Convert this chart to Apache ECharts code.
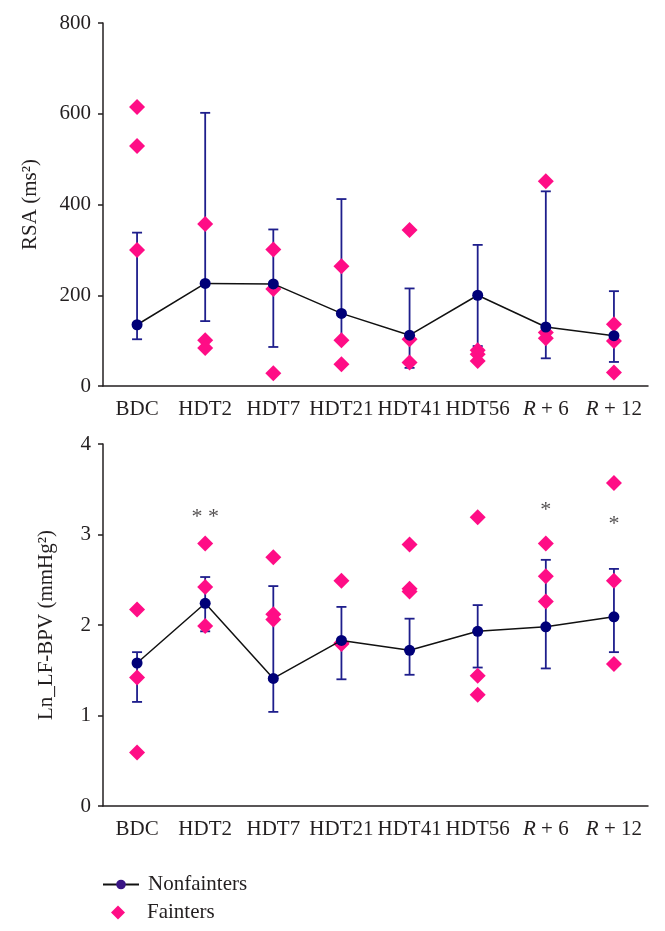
<!DOCTYPE html>
<html>
<head>
<meta charset="utf-8">
<script src="https://cdn.jsdelivr.net/npm/echarts@6/dist/echarts.min.js"></script>
<style>
  html, body { margin: 0; padding: 0; background: #fff; }
  #chart { width: 665px; height: 931px; }
</style>
</head>
<body>
<div id="chart"></div>
<script>
// ---- data ----
const categories = ['BDC', 'HDT2', 'HDT7', 'HDT21', 'HDT41', 'HDT56', 'R + 6', 'R + 12'];

const rsaTicks = [0, 200, 400, 600, 800];
const rsaMean  = [135, 226, 225, 160, 112, 200, 130, 111];
const rsaUpper = [338, 602, 345, 412, 215, 311, 429, 209];
const rsaLower = [103, 143, 86, 102, 40, 88, 61, 53];
const rsaFainters = [
  [615, 529, 300], [357, 101, 84], [301, 214, 28], [264, 101, 48],
  [344, 103, 52], [79, 70, 55], [451, 118, 105], [136, 99, 30]
];

const lfTicks = [0, 1, 2, 3, 4];
const lfMean  = [1.58, 2.24, 1.41, 1.83, 1.72, 1.93, 1.98, 2.09];
const lfUpper = [1.70, 2.53, 2.43, 2.20, 2.07, 2.22, 2.72, 2.62];
const lfLower = [1.15, 1.93, 1.04, 1.40, 1.45, 1.53, 1.52, 1.70];
const lfFainters = [
  [2.17, 1.42, 0.59], [2.90, 2.42, 1.99], [2.75, 2.12, 2.06], [2.49, 1.80, 1.79],
  [2.89, 2.40, 2.37], [3.19, 1.44, 1.23], [2.90, 2.54, 2.26], [3.57, 2.49, 1.57]
];

const starCats   = ['HDT2', 'R + 6', 'R + 12'];
const starValues = [3.26, 3.34, 3.18];
const starTexts  = ['* *', '*', '*'];

// ---- styling ----
const FONT = "'Liberation Serif', 'Times New Roman', serif";
const INK = '#231f20';
const NAVY = '#000078';
const BAR = '#1e1e8c';
const PINK = '#ff0d86';

function errorBarItem(params, api) {
  const x = api.value(0);
  const pHi = api.coord([x, api.value(1)]);
  const pLo = api.coord([x, api.value(2)]);
  const w = 5;
  const st = { stroke: BAR, lineWidth: 1.8 };
  return {
    type: 'group',
    children: [
      { type: 'line', shape: { x1: pHi[0], y1: pHi[1], x2: pLo[0], y2: pLo[1] }, style: st },
      { type: 'line', shape: { x1: pHi[0] - w, y1: pHi[1], x2: pHi[0] + w, y2: pHi[1] }, style: st },
      { type: 'line', shape: { x1: pLo[0] - w, y1: pLo[1], x2: pLo[0] + w, y2: pLo[1] }, style: st }
    ]
  };
}

function xAxisCfg(gridIndex) {
  return {
    type: 'category', gridIndex, data: categories, boundaryGap: true,
    axisLine: { lineStyle: { color: INK, width: 1.5 } },
    axisTick: { alignWithLabel: true, length: 5, lineStyle: { color: INK, width: 1.5 } },
    axisLabel: {
      interval: 0, margin: 13, color: INK, fontFamily: FONT, fontSize: 21,
      formatter: v => v.charAt(0) === 'R' ? '{i|R}' + v.slice(1) : v,
      rich: { i: { fontStyle: 'italic', fontFamily: FONT, fontSize: 21, color: INK } }
    }
  };
}

function yAxisCfg(gridIndex, ticks, name, gap) {
  return {
    type: 'value', gridIndex, min: ticks[0], max: ticks[ticks.length - 1],
    interval: ticks[1] - ticks[0],
    name, nameLocation: 'middle', nameGap: gap,
    nameTextStyle: { fontFamily: FONT, fontSize: 21, color: INK },
    axisLine: { show: true, lineStyle: { color: INK, width: 1.5 } },
    axisTick: { show: true, length: 5, lineStyle: { color: INK, width: 1.5 } },
    axisLabel: { margin: 12, color: INK, fontFamily: FONT, fontSize: 21 },
    splitLine: { show: false }
  };
}

function flatten(fainters) {
  const out = [];
  fainters.forEach((arr, i) => arr.forEach(v => out.push([i, v])));
  return out;
}

function seriesFor(idx, mean, upper, lower, fainters) {
  return [
    {
      type: 'custom', name: 'errorbars', xAxisIndex: idx, yAxisIndex: idx,
      renderItem: errorBarItem, z: 2, silent: true,
      data: categories.map((c, i) => [i, upper[i], lower[i]])
    },
    {
      type: 'scatter', name: 'Fainters', xAxisIndex: idx, yAxisIndex: idx,
      symbol: 'diamond', symbolSize: 16, z: 3,
      itemStyle: { color: PINK, opacity: 1 },
      data: flatten(fainters)
    },
    {
      type: 'line', name: 'Nonfainters', xAxisIndex: idx, yAxisIndex: idx,
      symbol: 'circle', symbolSize: 11, showSymbol: true, z: 4,
      lineStyle: { color: '#111', width: 1.5 },
      itemStyle: { color: NAVY },
      data: mean
    }
  ];
}

const legendText = { fontFamily: FONT, fontSize: 21, color: INK };

const chart = echarts.init(document.getElementById('chart'), null, { renderer: 'canvas' });
chart.setOption({
  animation: false,
  backgroundColor: '#fff',
  grid: [
    { left: 103, right: 17, top: 23, height: 363 },
    { left: 103, right: 17, top: 444, height: 362 }
  ],
  xAxis: [xAxisCfg(0), xAxisCfg(1)],
  yAxis: [
    yAxisCfg(0, rsaTicks, 'RSA (ms²)', 62),
    yAxisCfg(1, lfTicks, 'Ln_LF-BPV (mmHg²)', 46)
  ],
  legend: [
    {
      data: [{ name: 'Nonfainters', itemStyle: { color: '#3a1585' } }],
      left: 97, top: 869, itemWidth: 36, itemHeight: 12,
      textStyle: Object.assign({ padding: [0, 0, 0, 4] }, legendText)
    },
    {
      data: [{ name: 'Fainters', icon: 'diamond' }],
      left: 106, top: 897, itemWidth: 14, itemHeight: 14,
      textStyle: Object.assign({ padding: [0, 0, 0, 17] }, legendText)
    }
  ],
  series: [
    ...seriesFor(0, rsaMean, rsaUpper, rsaLower, rsaFainters),
    ...seriesFor(1, lfMean, lfUpper, lfLower, lfFainters),
    {
      type: 'scatter', name: 'stars', xAxisIndex: 1, yAxisIndex: 1,
      symbolSize: 1, itemStyle: { color: 'rgba(0,0,0,0)' }, silent: true, z: 5,
      label: {
        show: true, position: 'inside', offset: [0, 6],
        formatter: p => p.value[2],
        fontFamily: FONT, fontSize: 22, color: INK
      },
      data: starCats.map((c, i) => [categories.indexOf(c), starValues[i], starTexts[i]])
    }
  ]
});
</script>
</body>
</html>
